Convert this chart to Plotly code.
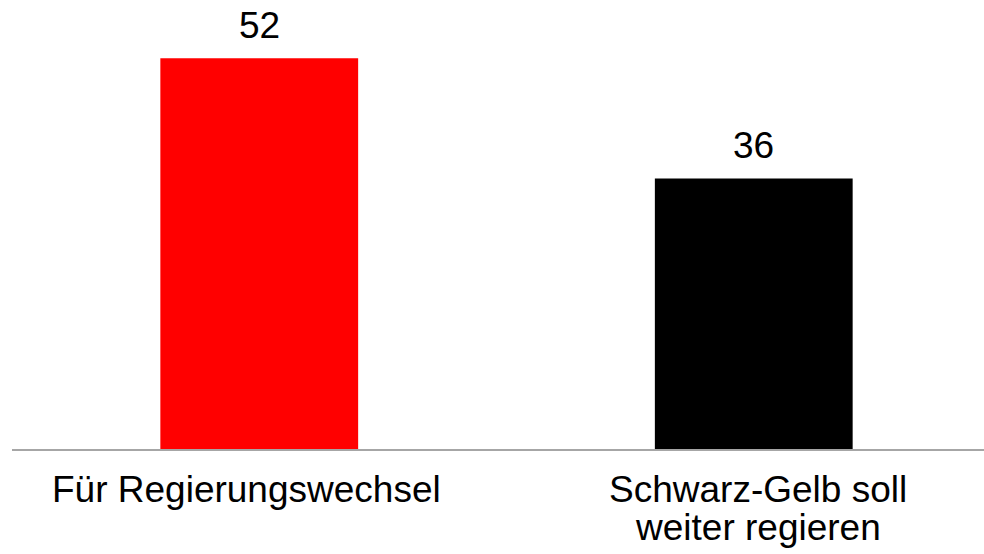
import plotly.graph_objects as go

categories = ["Für Regierungswechsel", "Schwarz-Gelb soll<br>weiter regieren"]
values = [52, 36]
colors = ["#ff0000", "#000000"]
value_labels = ["52", "36"]

FONT = "Liberation Sans, Arial, sans-serif"
FONT_SIZE = 37
LABEL_XSHIFT = [-13, 4]      # horizontal nudge of the category labels (style)
LINE1_SHIFT = -18            # first label line below the axis (px)
LINE_STEP = 38               # line spacing of the category labels (px)

fig = go.Figure()
fig.add_trace(go.Bar(
    x=[0, 1], y=values,
    marker=dict(color=colors, line=dict(width=0)),
    width=0.4,
    hoverinfo="skip",
))

for i, (v, t) in enumerate(zip(values, value_labels)):
    fig.add_annotation(x=i, y=v, text=t, showarrow=False, yanchor="bottom",
                       yshift=10, font=dict(family=FONT, size=FONT_SIZE, color="#000000"))

for i, cat in enumerate(categories):
    for k, line in enumerate(cat.split("<br>")):
        fig.add_annotation(x=i, y=0, text=line, showarrow=False, yanchor="top",
                           xanchor="center", xshift=LABEL_XSHIFT[i],
                           yshift=LINE1_SHIFT - k * LINE_STEP,
                           font=dict(family=FONT, size=FONT_SIZE, color="#000000"))

fig.update_layout(
    width=984, height=554,
    margin=dict(l=12, r=0, t=0, b=105),
    paper_bgcolor="white", plot_bgcolor="white",
    showlegend=False,
    xaxis=dict(
        tickmode="array", tickvals=[0, 1], showticklabels=False,
        range=[-0.5, 1.4656], automargin=False,
        showline=True, linecolor="#a6a6a6", linewidth=2,
        showgrid=False, zeroline=False, ticks="",
    ),
    yaxis=dict(range=[0, 59.75], visible=False, showgrid=False, zeroline=False,
               automargin=False),
)

fig.write_html("out.html", config={"displayModeBar": False},
               post_script="document.body.style.margin='0';document.body.style.overflow='hidden';")
